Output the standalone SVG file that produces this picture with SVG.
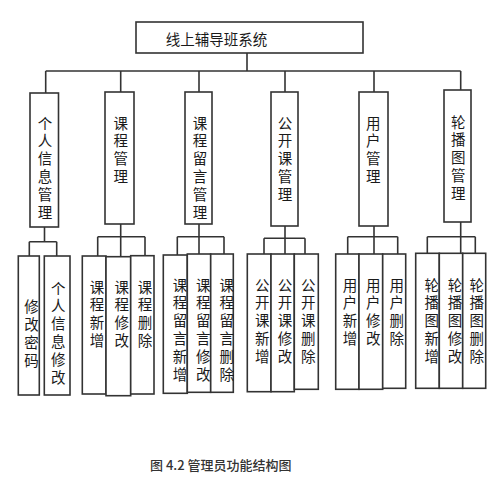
<svg xmlns="http://www.w3.org/2000/svg" width="500" height="481" viewBox="0 0 500 481">
<style>
  .box { fill: #fff; stroke: #333; stroke-width: 1.6; }
  .ln { fill: none; stroke: #333; stroke-width: 1.6; }
  .t { font-family: "Noto Sans CJK SC", "Liberation Sans", sans-serif; font-size: 14.5px; fill: #1a1a1a; }
  .h { text-anchor: middle; dominant-baseline: central; }
  .v { writing-mode: vertical-rl; text-orientation: upright; letter-spacing: 3.3px; dominant-baseline: central; text-anchor: start; }
  .cap { font-family: "Noto Sans CJK SC", "Liberation Sans", sans-serif; font-size: 13px; fill: #333; font-weight: 500; }
</style>
<rect width="500" height="481" fill="#fff"/>
<g id="connectors">
  <path class="ln" d="M247,53 V71 M45.7,71 H460.7 M45.7,71 V93 M120.7,71 V92 M199,71 V92 M285,71 V92 M374,71 V92 M460.7,71 V90"/>
  <path class="ln" d="M44.5,227 V241.7 M29.3,241.7 H56.7 M29.3,241.7 V256 M56.7,241.7 V256"/>
  <path class="ln" d="M120.7,224 V256 M97.7,236.7 H145 M97.7,236.7 V256 M145,236.7 V256"/>
  <path class="ln" d="M199,224 V254 M177.3,236.7 H224 M177.3,236.7 V255 M224,236.7 V254"/>
  <path class="ln" d="M285,226 V254 M264,238.3 H305 M264,238.3 V254 M305,238.3 V254"/>
  <path class="ln" d="M374,226 V254 M347.7,236.7 H397.7 M347.7,236.7 V254 M397.7,236.7 V254"/>
  <path class="ln" d="M460.7,222 V253 M427.3,236.7 H475.3 M427.3,236.7 V253 M475.3,236.7 V253"/>
</g>
<g id="root">
  <rect class="box" x="136" y="22" width="227" height="31"/>
  <text class="t h" x="216.5" y="38">线上辅导班系统</text>
</g>
<g id="n1">
  <rect class="box" x="30" y="93" width="28.5" height="134"/>
  <text class="t v" x="45" y="115.8">个人信息管理</text>
</g>
<g id="n2">
  <rect class="box" x="105" y="92" width="29" height="132"/>
  <text class="t v" x="120.8" y="115.8">课程管理</text>
</g>
<g id="n3">
  <rect class="box" x="185" y="92" width="27" height="132"/>
  <text class="t v" x="200" y="115.8">课程留言管理</text>
</g>
<g id="n4">
  <rect class="box" x="271" y="92" width="27" height="134"/>
  <text class="t v" x="285" y="115.8">公开课管理</text>
</g>
<g id="n5">
  <rect class="box" x="359" y="92" width="29" height="134"/>
  <text class="t v" x="373.3" y="115.8">用户管理</text>
</g>
<g id="n6">
  <rect class="box" x="444" y="90" width="27" height="132"/>
  <text class="t v" x="458.3" y="114.8">轮播图管理</text>
</g>
<g id="n1a">
  <rect class="box" x="18.3" y="256" width="21" height="139"/>
  <text class="t v" x="31.5" y="299.5">修改密码</text>
</g>
<g id="n1b">
  <rect class="box" x="44.3" y="256" width="25.7" height="139"/>
  <text class="t v" x="58.3" y="280.8">个人信息修改</text>
</g>
<g id="n2a">
  <rect class="box" x="82.3" y="256" width="23.7" height="138"/>
  <text class="t v" x="97" y="279.8">课程新增</text>
</g>
<g id="n2b">
  <rect class="box" x="106" y="256.7" width="24.7" height="139"/>
  <text class="t v" x="121.7" y="279.8">课程修改</text>
</g>
<g id="n2c">
  <rect class="box" x="130.7" y="255.7" width="23.3" height="138.3"/>
  <text class="t v" x="145" y="279.8">课程删除</text>
</g>
<g id="n3a">
  <rect class="box" x="163.3" y="255" width="24" height="138.3"/>
  <text class="t v" x="180" y="277.8">课程留言新增</text>
</g>
<g id="n3b">
  <rect class="box" x="187.3" y="254" width="23.4" height="138.3"/>
  <text class="t v" x="203.3" y="277.8">课程留言修改</text>
</g>
<g id="n3c">
  <rect class="box" x="210.7" y="254" width="22.6" height="138.3"/>
  <text class="t v" x="226.7" y="277.8">课程留言删除</text>
</g>
<g id="n4a">
  <rect class="box" x="247.3" y="254" width="23.7" height="137.7"/>
  <text class="t v" x="262.3" y="277.8">公开课新增</text>
</g>
<g id="n4b">
  <rect class="box" x="271" y="254" width="23.3" height="137.7"/>
  <text class="t v" x="285" y="277.8">公开课修改</text>
</g>
<g id="n4c">
  <rect class="box" x="294.3" y="254" width="24" height="135.3"/>
  <text class="t v" x="308.3" y="277.8">公开课删除</text>
</g>
<g id="n5a">
  <rect class="box" x="335.7" y="254" width="23.3" height="135.3"/>
  <text class="t v" x="350" y="277.8">用户新增</text>
</g>
<g id="n5b">
  <rect class="box" x="359" y="254" width="23.7" height="135.3"/>
  <text class="t v" x="373.3" y="277.8">用户修改</text>
</g>
<g id="n5c">
  <rect class="box" x="382.7" y="254" width="23" height="134.3"/>
  <text class="t v" x="396.7" y="277.8">用户删除</text>
</g>
<g id="n6a">
  <rect class="box" x="415.7" y="253.3" width="23.6" height="135"/>
  <text class="t v" x="431.7" y="277.8">轮播图新增</text>
</g>
<g id="n6b">
  <rect class="box" x="439.3" y="253.3" width="23.4" height="135"/>
  <text class="t v" x="455" y="277.8">轮播图修改</text>
</g>
<g id="n6c">
  <rect class="box" x="462.7" y="253.3" width="23" height="135"/>
  <text class="t v" x="476.7" y="277.8">轮播图删除</text>
</g>
<g id="caption">
  <text class="cap" x="150" y="469.5">图 4.2 管理员功能结构图</text>
</g>
</svg>
